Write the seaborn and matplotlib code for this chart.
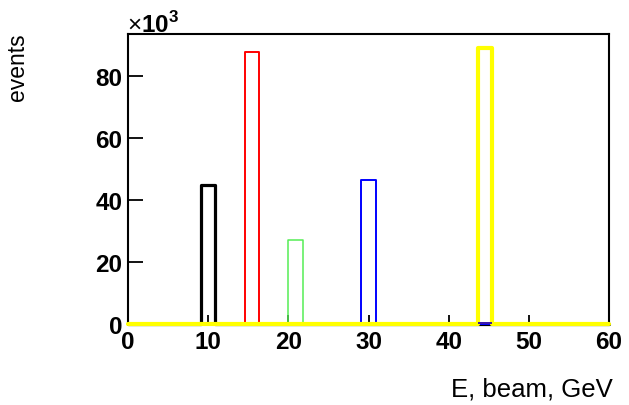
import numpy as np
import pandas as pd
import matplotlib
matplotlib.use("Agg")
import matplotlib.pyplot as plt
import seaborn as sns
from matplotlib.ticker import FuncFormatter

# beam energy of each run (GeV) and the number of events in it
beam_energy = [10, 15, 20, 30, 45]
n_events = [44900, 87600, 27200, 46400, 88900]
line_colors = ["#000000", "#ff0000", "#55ee55", "#0000ff", "#ffff00"]
line_widths = [2.3, 1.4, 1.1, 1.4, 3.0]

# small extra sample sitting under the yellow bar
extra_energy = [45]
extra_events = [800]

x_ticks = [0, 10, 20, 30, 40, 50, 60]
y_ticks = [0, 20000, 40000, 60000, 80000]

sns.set_style("ticks")
plt.rcParams["font.family"] = ["Liberation Sans", "DejaVu Sans"]
plt.rcParams["mathtext.fontset"] = "custom"
plt.rcParams["mathtext.rm"] = "Liberation Sans"
plt.rcParams["mathtext.bf"] = "Liberation Sans:bold"
plt.rcParams["text.color"] = "black"
plt.rcParams["xtick.color"] = "black"
plt.rcParams["ytick.color"] = "black"
plt.rcParams["xtick.bottom"] = True
plt.rcParams["ytick.left"] = True

fig = plt.figure(figsize=(6.29, 4.06), dpi=100)
ax = fig.add_axes([128 / 629, 81 / 406, 481 / 629, 290 / 406])

for e, n, c, lw in zip(beam_energy, n_events, line_colors, line_widths):
    df = pd.DataFrame({"energy": [e], "events": [n]})
    sns.histplot(data=df, x="energy", weights="events", bins=33, binrange=(0, 60),
                 element="step", fill=False, color=c, linewidth=lw, ax=ax)

df_extra = pd.DataFrame({"energy": extra_energy, "events": extra_events})
sns.histplot(data=df_extra, x="energy", weights="events", bins=33, binrange=(0, 60),
             element="bars", fill=True, color="#3d1aa8", alpha=1, linewidth=0, ax=ax)

for ln in ax.lines:
    ln.set_clip_on(False)
    ln.set_zorder(3)
for p in ax.patches:
    p.set_clip_on(False)
    p.set_zorder(4)

ax.set_xlim(0, 60)
ax.set_ylim(0, 93500)
ax.set_xticks(x_ticks)
ax.set_yticks(y_ticks)
ax.yaxis.set_major_formatter(FuncFormatter(lambda v, p: f"{v / 1000:.0f}"))
ax.set_xlabel("")
ax.set_ylabel("")

for s in ax.spines.values():
    s.set_visible(True)
    s.set_linewidth(1.5)
    s.set_color("black")

ax.tick_params(axis="both", direction="in", width=1.3, labelsize=17.5,
               colors="black")
ax.tick_params(axis="x", length=6.5, pad=4, bottom=True, top=False)
ax.tick_params(axis="y", length=10.5, pad=4, left=True, right=False)
for lab in ax.get_xticklabels() + ax.get_yticklabels():
    lab.set_fontweight("bold")

fig.text(127 / 629, 1 - 33 / 406, r"$\times\mathbf{10}^{\mathbf{3}}$", fontsize=17.5,
         ha="left", va="baseline")
fig.text(17.5 / 629, 1 - 33 / 406, "events", rotation=90, fontsize=16.5,
         ha="center", va="top")
fig.text(613 / 629, 1 - 397 / 406, "E, beam, GeV", fontsize=18.5,
         ha="right", va="baseline")

fig.savefig("out.png", dpi=100)
